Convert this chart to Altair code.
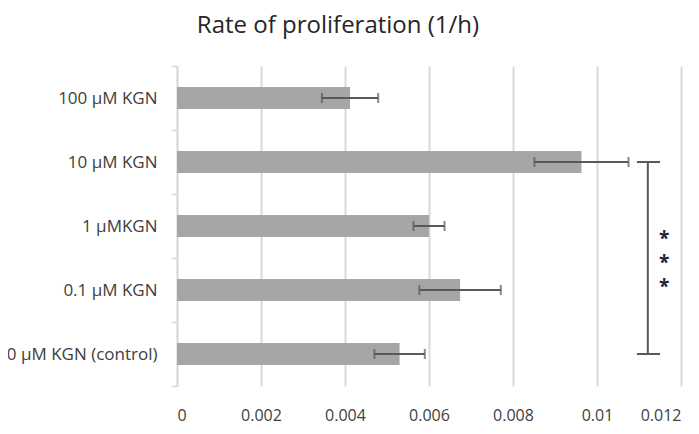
import altair as alt
import pandas as pd

categories = ["100 µM KGN", "10 µM KGN", "1 µMKGN", "0.1 µM KGN", "0 µM KGN (control)"]
rates = [0.00412, 0.00963, 0.00600, 0.00674, 0.00530]
errors = [0.00067, 0.00112, 0.00037, 0.00097, 0.00060]
x_ticks = [0, 0.002, 0.004, 0.006, 0.008, 0.01, 0.012]

sig_from = "10 µM KGN"
sig_to = "0 µM KGN (control)"
sig_x = 0.01121
sig_cap_lo = 0.01095
sig_cap_hi = 0.0115
sig_star_x = 0.0116
sig_star = "*"

df = pd.DataFrame({
    "cat": categories,
    "rate": rates,
    "lo": [r - e for r, e in zip(rates, errors)],
    "hi": [r + e for r, e in zip(rates, errors)],
})

font = "Open Sans"
ink = "#404040"
grid = "#d9d9d9"
errc = "#595959"

yscale = alt.Scale(domain=categories, paddingInner=0, paddingOuter=0)
xscale = alt.Scale(domain=[0, 0.012], nice=False)

base = alt.Chart(df)

bars = base.mark_bar(color="#a6a6a6", size=22).encode(
    y=alt.Y("cat:N", sort=None, scale=yscale, title=None,
            axis=alt.Axis(domainColor=grid, domainWidth=1.5, tickColor=grid, tickWidth=1.5,
                          tickSize=6, tickBand="extent", labelFont=font, labelFontSize=17,
                          labelColor=ink, labelPadding=14, grid=False)),
    x=alt.X("rate:Q", scale=xscale, title=None,
            axis=alt.Axis(values=x_ticks, domain=False, ticks=False, grid=True,
                          gridColor=grid, gridWidth=2, labelFont=font, labelFontSize=16,
                          labelColor=ink, labelPadding=21, labelFlush=True,
                          labelExpr="datum.value == 0 ? '0' : format(datum.value, '')")),
)

err_line = base.mark_rule(color=errc, strokeWidth=2).encode(
    y=alt.Y("cat:N", sort=None, scale=yscale), x="lo:Q", x2="hi:Q")
cap_lo = base.mark_tick(color=errc, thickness=2, size=10, orient="vertical").encode(
    y=alt.Y("cat:N", sort=None, scale=yscale), x="lo:Q")
cap_hi = base.mark_tick(color=errc, thickness=2, size=10, orient="vertical").encode(
    y=alt.Y("cat:N", sort=None, scale=yscale), x="hi:Q")

sig_df = pd.DataFrame({"a": [sig_from], "b": [sig_to], "x": [sig_x],
                       "clo": [sig_cap_lo], "chi": [sig_cap_hi]})
sig_base = alt.Chart(sig_df)
sig_v = sig_base.mark_rule(color=errc, strokeWidth=2).encode(
    x="x:Q", y=alt.Y("a:N", scale=yscale, sort=None), y2="b:N")
sig_top = sig_base.mark_rule(color=errc, strokeWidth=2).encode(
    x="clo:Q", x2="chi:Q", y=alt.Y("a:N", scale=yscale, sort=None))
sig_bot = sig_base.mark_rule(color=errc, strokeWidth=2).encode(
    x="clo:Q", x2="chi:Q", y=alt.Y("b:N", scale=yscale, sort=None))

star_df = pd.DataFrame({"c": ["1 µMKGN"], "x": [sig_star_x], "t": [sig_star]})
star_layers = [
    alt.Chart(star_df).mark_text(font=font, fontSize=19, fontWeight="bold", color="#262626",
                                 dy=d, baseline="middle").encode(
        x="x:Q", y=alt.Y("c:N", scale=yscale, sort=None), text="t:N")
    for d in (13, 37, 61)
]

chart = alt.layer(bars, err_line, cap_lo, cap_hi, sig_v, sig_top, sig_bot, *star_layers).properties(
    width=504, height=320,
    title=alt.TitleParams("Rate of proliferation (1/h)", font=font, fontSize=24,
                          fontWeight="normal", color="#262626", anchor="middle",
                          dx=-91, offset=19),
    autosize=alt.AutoSizeParams(type="none"),
    padding={"left": 169, "top": 58, "right": 10, "bottom": 40},
).configure_view(stroke=None)

chart.save("out.html", embed_options={"renderer": "svg", "actions": False})
